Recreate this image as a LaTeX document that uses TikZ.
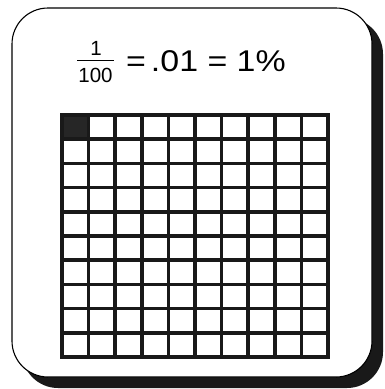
\documentclass[tikz,border=0pt]{standalone}
\usepackage{fontspec}
\setmainfont{Liberation Sans}
\newfontfamily\widesans[FakeStretch=1.13]{Liberation Sans}
\begin{document}
\begin{tikzpicture}[x=1pt,y=-1pt,
  card/.style={draw=black,line width=1.1pt,fill=white,rounded corners=36pt},
  shadowbox/.style={fill=black!90,rounded corners=36pt},
  gridline/.style={line width=3.6pt,draw=black!90,line cap=rect},
  bigtext/.style={font=\widesans\fontsize{30}{30}\selectfont,inner sep=0pt},
  fractext/.style={font=\fontsize{20.5}{20.5}\selectfont,inner sep=0pt}]
\useasboundingbox (0,0) rectangle (385,389);
% shadow and card
\fill[shadowbox] (22,18) rectangle (383,388);
\draw[card] (12,8) rectangle (372,377);
% shaded cell
\fill[black!85] (62,115) rectangle (88.6,139.2);
% grid
\foreach \i in {0,...,10}{
  \draw[gridline] ({62+26.6*\i},115) -- ({62+26.6*\i},357);
  \draw[gridline] (62,{115+24.2*\i}) -- (328,{115+24.2*\i});
}
% fraction
\node[fractext,anchor=base] (num) at (96,55.5) {1};
\node[fractext,anchor=base] (den) at (95.5,82) {100};
\coordinate (barL) at (77,60.5);
\coordinate (barR) at (114,60.5);
\draw[line width=1.3pt] (barL) -- (barR);
\node[bigtext,anchor=base west] (eq) at (126,71) {=\kern5pt.01 = 1\%};
\end{tikzpicture}
\end{document}
